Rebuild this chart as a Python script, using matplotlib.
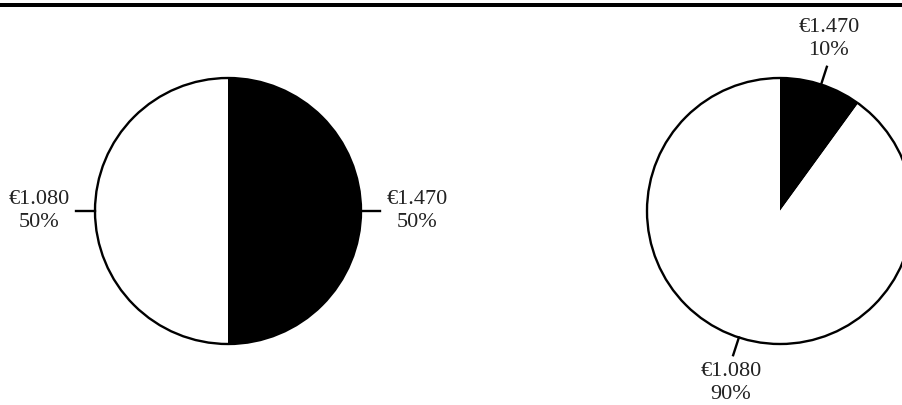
import numpy as np
import matplotlib
matplotlib.use('Agg')
import matplotlib.pyplot as plt
from matplotlib.patches import Rectangle

# data
amounts = [1470, 1080]
colors = ['black', 'white']
shares_left = [50, 50]
shares_right = [10, 90]

plt.rcParams['font.family'] = ['Liberation Serif', 'DejaVu Serif']


def euro(v):
    return '€' + f'{v:,}'.replace(',', '.')


def draw_pie(ax, shares, center, radius):
    wedges, _ = ax.pie(shares, colors=colors, startangle=90, counterclock=False,
                       center=center, radius=radius,
                       wedgeprops=dict(edgecolor='none'))
    # outline of the whole circle
    ax.add_patch(plt.Circle(center, radius, fill=False, edgecolor='black', lw=1.7))
    for w, amt, sh in zip(wedges, amounts, shares):
        ang = np.deg2rad((w.theta1 + w.theta2) / 2)
        c, s = np.cos(ang), np.sin(ang)
        x0, y0 = center
        ax.plot([x0 + radius * c, x0 + 1.14 * radius * c],
                [y0 + radius * s, y0 + 1.14 * radius * s], color='black', lw=1.7)
        ha = 'center' if abs(c) < 0.5 else ('left' if c > 0 else 'right')
        va = 'center' if abs(s) < 0.5 else ('bottom' if s > 0 else 'top')
        ax.text(x0 + 1.19 * radius * c, y0 + 1.19 * radius * s,
                f'{euro(amt)}\n{sh}%', ha=ha, va=va, multialignment='center',
                fontsize=16, color='#222222', linespacing=1.35)


fig = plt.figure(figsize=(9.02, 4.05), dpi=100, facecolor='white')
ax = fig.add_axes([0, 0, 1, 1])

draw_pie(ax, shares_left, (228, 194), 133)
draw_pie(ax, shares_right, (780, 194), 133)

# pie() resets the limits, so set them afterwards
ax.set_xlim(0, 902)
ax.set_ylim(0, 405)
ax.set_aspect('equal')
ax.axis('off')

# thick rule across the top
fig.patches.append(Rectangle((0, 1 - 7 / 405), 1, 4.5 / 405, transform=fig.transFigure,
                             facecolor='black', edgecolor='none'))

fig.savefig('out.png', dpi=100)
